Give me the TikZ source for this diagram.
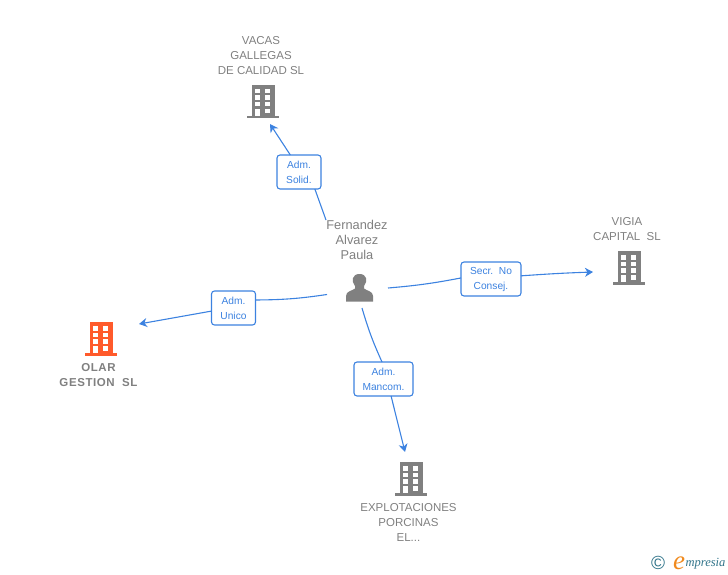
\documentclass[tikz,border=0pt]{standalone}
\usepackage{fontspec}
\setmainfont{Liberation Sans}
\newfontfamily\logofont{Liberation Serif}
\usetikzlibrary{arrows.meta}
\definecolor{linkblue}{HTML}{3C82E0}
\definecolor{labelgrey}{HTML}{808080}
\definecolor{iconorange}{HTML}{FF5A2B}
\definecolor{logoteal}{HTML}{2F7389}
\definecolor{logoorange}{HTML}{F08A1E}
\tikzset{
  link/.style={draw=linkblue, line width=1.1pt},
  tolink/.style={link, -{Stealth[length=8pt,width=9pt,inset=2.5pt]}},
  role/.style={draw=linkblue, line width=1.1pt, fill=white, rounded corners=3pt, minimum height=34pt, inner sep=0pt, outer sep=0pt, align=center, text=linkblue, font=\fontsize{10.2}{15}\selectfont},
  orgname/.style={align=center, text=labelgrey, inner sep=0pt, font=\fontsize{11.5}{15}\selectfont},
  building/.pic={
    \fill[pic actions] (-11,0) rectangle (11.5,31);
    \fill[pic actions] (-16,31) rectangle (16,33.5);
    \foreach \j in {4,10.5,17} {
      \fill[white] (-7.7,\j) rectangle (-3.3,\j+4.5);
      \fill[white] (2.3,\j) rectangle (6.7,\j+4.5);
    }
    \fill[white] (-7.7,24) rectangle (-2.7,31);
    \fill[white] (2.3,24) rectangle (6.7,28.5);
  },
}
\begin{document}
\begin{tikzpicture}[x=1pt,y=-1pt]
\useasboundingbox (0,0) rectangle (728,575);
% company icons
\pic[fill=labelgrey] at (263,85) {building};
\pic[fill=labelgrey] at (629,251) {building};
\pic[fill=iconorange] at (101,322) {building};
\pic[fill=labelgrey] at (411,462) {building};
% person icon
\fill[labelgrey] (346,301.5) -- (346,296) .. controls (346,291) and (352,291) .. (355,288.5) -- (355,286)
  .. controls (351,281) and (352,274) .. (359.5,274) .. controls (367,274) and (368,281) .. (364,286)
  -- (364,288.5) .. controls (367,291) and (373,291) .. (373,296) -- (373,301.5) -- cycle;
% names
\node[orgname] (vacas) at (261,56) {VACAS\\GALLEGAS\\DE CALIDAD SL};
\node[orgname] (vigia) at (627,229) {VIGIA\\CAPITAL\ \ SL};
\node[orgname, font=\addfontfeature{LetterSpace=5}\fontsize{11.5}{15}\bfseries\selectfont] (olar) at (98.5,375) {OLAR\\GESTION\ \ SL};
\node[orgname] (explot) at (408.5,522) {EXPLOTACIONES\\PORCINAS\\EL...};
\node[orgname, font=\fontsize{12.8}{15}\selectfont] (paula) at (357,240) {Fernandez\\Alvarez\\Paula};
% roles
\node[role, minimum width=44pt] (solid) at (299,172) {Adm.\\Solid.};
\node[role, minimum width=44pt] (unico) at (233.5,308) {Adm.\\Unico};
\node[role, minimum width=60pt] (secr) at (491,279) {Secr.\ \ No\\Consej.};
\node[role, minimum width=59pt] (mancom) at (383.5,379) {Adm.\\Mancom.};
% free ends
\coordinate (p1) at (326,220);
\coordinate (p2) at (327,294.5);
\coordinate (p3) at (388,288);
\coordinate (p4) at (362,308);
\coordinate (c1) at (270,124);
\coordinate (c2) at (139,324);
\coordinate (c3) at (593,272);
\coordinate (c4) at (405,452);
% links
\draw[link] (p1) -- (solid.-47);
\draw[tolink] (solid.117) -- (c1);
\draw[link] (p2) to[bend left=4] (unico.20);
\draw[tolink] (unico.188) -- (c2);
\draw[link] (p3) to[bend right=3] (secr.178);
\draw[tolink] (secr.6) to[bend left=1] (c3);
\draw[link] (p4) to[bend right=4] (mancom.95);
\draw[tolink] (mancom.-66) -- (c4);
% logo
\node[text=logoteal, inner sep=0pt, font=\fontsize{19}{19}\selectfont] (copy) at (658,562.5) {\textcopyright};
\node[text=logoorange, inner sep=0pt, font=\logofont\itshape\fontsize{27}{27}\selectfont] (loge) at (679,563) {e};
\node[text=logoteal, inner sep=0pt, font=\logofont\itshape\fontsize{12.5}{13}\selectfont] (logtext) at (705.5,564) {mpresia};
\end{tikzpicture}
\end{document}
